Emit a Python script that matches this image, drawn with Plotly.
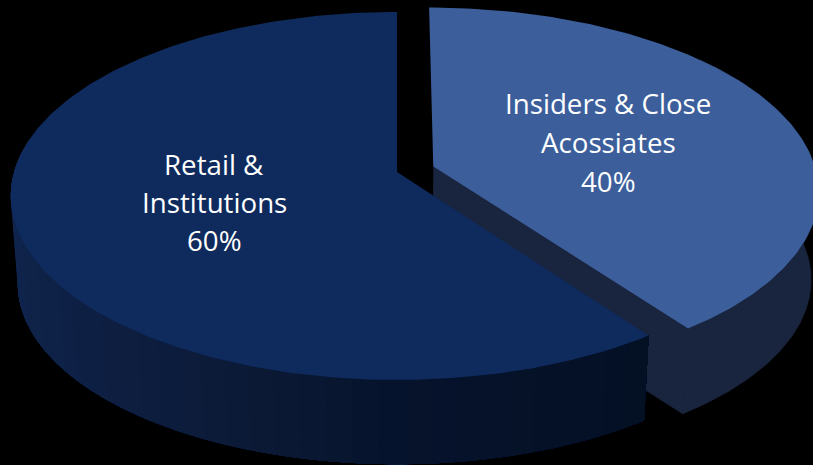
import numpy as np
import plotly.graph_objects as go

# Data
categories = ["Retail & Institutions", "Insiders & Close Acossiates"]
shares = [60, 40]
label_lines = [["Retail &", "Institutions"], ["Insiders & Close", "Acossiates"]]

# Styles / geometry
W, H = 813, 465
BG = "#000000"
TOP_BIG, TOP_SMALL, WALL_SMALL = "#0f2a5c", "#3c5f9c", "#19243e"
WALL_ANGLES = [150, 190, 225, 250, 270, 306]
WALL_RGB = [(17, 39, 82), (16, 37, 78), (13, 31, 66), (11, 26, 54), (6, 19, 44), (4, 16, 36)]
CX, CY, A, B, K = 397.0, 172.0, 383.0, 180.9, 0.13
DEPTH, SHRINK, EXPLODE = 88.0, 0.982, 0.10
LABEL_CENTERS = [(214, [164, 202, 240]), (608, [103, 142, 181])]
FONT = dict(family="Open Sans, sans-serif", size=27.7, color="#ffffff")


def project(X, Y, base=False):
    w = 1 + K * np.asarray(Y)
    s = SHRINK if base else 1.0
    return CX + s * A * np.asarray(X) / w, CY + (DEPTH if base else 0) - s * B * np.asarray(Y) / w


def arc(a0, a1, n=160):
    t = np.radians(np.linspace(a0, a1, n))
    return np.cos(t), np.sin(t)


def poly(x, y, color, lw=0.0):
    return go.Scatter(x=list(x), y=list(y), mode="lines", fill="toself", fillcolor=color,
                      line=dict(color=color, width=lw), hoverinfo="skip", showlegend=False)


total = sum(shares)
sweep_big = 360 * shares[0] / total
sweep_small = 360 * shares[1] / total
start = 90.0
end_big = start + sweep_big
end_small = start - sweep_small
mid = np.radians(start - sweep_small / 2)
ex, ey = EXPLODE * np.cos(mid), EXPLODE * np.sin(mid)

fig = go.Figure()

# Exploded slice: side faces (hidden back part skipped), then top
Xw, Yw = arc(start - 50, end_small)
Xw, Yw = Xw + ex, Yw + ey
xwt, ywt = project(Xw, Yw)
xwb, ywb = project(Xw, Yw, base=True)
ax_t, ay_t = project(ex, ey)
ax_b, ay_b = project(ex, ey, base=True)
fig.add_trace(poly([ax_t, xwt[-1], xwb[-1], ax_b], [ay_t, ywt[-1], ywb[-1], ay_b], WALL_SMALL, 0.8))
fig.add_trace(poly(list(xwt) + list(xwb[::-1]), list(ywt) + list(ywb[::-1]), WALL_SMALL, 0.8))
Xs, Ys = arc(start, end_small)
xt, yt = project(Xs + ex, Ys + ey)
fig.add_trace(poly([ax_t] + list(xt), [ay_t] + list(yt), TOP_SMALL))

# Large slice: shaded wall bands painted over each other, then top
edges = np.linspace(170, end_big, 40)
for a0 in edges[:-1]:
    m = a0 + (edges[1] - edges[0]) / 2
    rgb = [int(round(np.interp(m, WALL_ANGLES, [c[i] for c in WALL_RGB]))) for i in range(3)]
    color = f"rgb({rgb[0]},{rgb[1]},{rgb[2]})"
    X, Y = arc(a0, end_big, 120)
    xa, ya = project(X, Y)
    xc, yc = project(X, Y, base=True)
    fig.add_trace(poly(list(xa) + list(xc[::-1]), list(ya) + list(yc[::-1]), color))
X, Y = arc(start, end_big, 240)
xa, ya = project(X, Y)
fig.add_trace(poly([CX] + list(xa), [CY] + list(ya), TOP_BIG))

# Labels
for lines, share, (lx, lys) in zip(label_lines, shares, LABEL_CENTERS):
    for text, ly in zip(lines + [f"{share}%"], lys):
        fig.add_annotation(x=lx, y=ly, text=text, showarrow=False, font=FONT,
                           xanchor="center", yanchor="middle")

fig.update_layout(width=W, height=H, margin=dict(l=0, r=0, t=0, b=0),
                  paper_bgcolor=BG, plot_bgcolor=BG, showlegend=False,
                  xaxis=dict(range=[0, W], visible=False, fixedrange=True),
                  yaxis=dict(range=[H, 0], visible=False, fixedrange=True))

fig.write_html("out.html", config=dict(displayModeBar=False),
               post_script="document.body.style.margin='0';document.body.style.background='#000';document.body.style.overflow='hidden';")
